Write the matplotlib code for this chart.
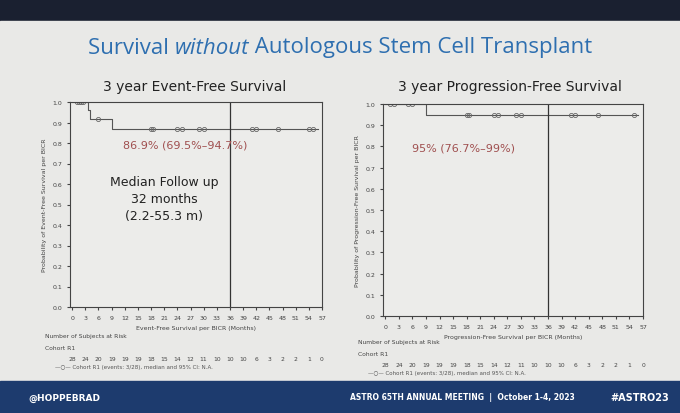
import matplotlib
matplotlib.use("Agg")
import matplotlib.pyplot as plt
import numpy as np

W, H = 680, 414
# Event-free survival step data
efs_t = [0, 3.5, 4, 9, 56]
efs_s = [1.0, 0.96, 0.915, 0.869, 0.869]
efs_cens = [1, 1.5, 2, 2.5, 6, 18, 18.5, 24, 25, 29, 30, 41, 42, 47, 54, 55]
pfs_t = [0, 9, 56]
pfs_s = [1.0, 0.95, 0.95]
pfs_cens = [1, 2, 5, 6, 18, 18.5, 24, 25, 29, 30, 41, 42, 47, 55]
xticks = list(range(0, 58, 3))
yticks = [round(0.1 * i, 1) for i in range(11)]
at_risk = [28, 24, 20, 19, 19, 19, 18, 15, 14, 12, 11, 10, 10, 10, 6, 3, 2, 2, 1, 0]

fig = plt.figure(figsize=(W / 100, H / 100), dpi=100)
fig.patch.set_facecolor("#dcdcdc")

def px(x0, y0, x1, y1):
    return [x0 / W, 1 - y1 / H, (x1 - x0) / W, (y1 - y0) / H]

bg = fig.add_axes([0, 0, 1, 1]); bg.axis("off"); bg.set_xlim(0, W); bg.set_ylim(H, 0)
bg.add_patch(plt.Rectangle((0, 0), W, 22, color="#1a2030"))
bg.add_patch(plt.Rectangle((0, 22), W, 360, color="#e9e9e7"))
bg.add_patch(plt.Rectangle((0, 382), W, 32, color="#1d3b6e"))

# title in three pieces laid out with measured widths
renderer = fig.canvas.get_renderer()
parts = [("Survival ", "normal"), ("without", "italic"), (" Autologous Stem Cell Transplant", "normal")]
objs = []
for s, st in parts:
    objs.append(bg.text(0, 48, s, color="#2e6fb0", fontsize=16, va="center", family="Open Sans", style=st))
widths = [o.get_window_extent(renderer).width for o in objs]
x = 340 - sum(widths) / 2
for o, w in zip(objs, widths):
    o.set_x(x); x += w

bg.text(195, 87, "3 year Event-Free Survival", fontsize=10, ha="center", va="center", color="#222")
bg.text(510, 87, "3 year Progression-Free Survival", fontsize=10, ha="center", va="center", color="#222")
bg.text(28, 398, "@HOPPEBRAD", color="white", fontsize=6.5, va="center", fontweight="bold")
bg.text(350, 398, "ASTRO 65TH ANNUAL MEETING  |  October 1-4, 2023", color="white", fontsize=5.5, va="center", fontweight="bold")
bg.text(610, 398, "#ASTRO23", color="white", fontsize=7, va="center", fontweight="bold")

def km(rect, t, s, cens, xlabel, ylabel, label, lpos, risk_y):
    ax = fig.add_axes(px(*rect))
    ax.set_facecolor("#ececea")
    ax.step(t, s, where="post", color="#555", lw=0.8)
    cy = [s[np.searchsorted(t, c, side="right") - 1] for c in cens]
    ax.plot(cens, cy, "o", mfc="none", mec="#666", ms=3, mew=0.6)
    ax.axvline(36, color="#333", lw=0.9)
    ax.set_xlim(-0.5, 57); ax.set_ylim(0, 1.0)
    ax.set_xticks(xticks); ax.set_yticks(yticks)
    ax.set_yticklabels([f"{v:.1f}" for v in yticks])
    ax.tick_params(labelsize=4.5, colors="#444", length=2)
    ax.set_xlabel(xlabel, fontsize=4.5, color="#444")
    ax.set_ylabel(ylabel, fontsize=4.5, color="#444")
    for sp in ax.spines.values():
        sp.set_color("#444"); sp.set_linewidth(0.8)
    ax.text(lpos[0], lpos[1], label, fontsize=8, color="#a05050")
    x0 = rect[0]
    bg.text(x0 - 25, risk_y, "Number of Subjects at Risk", fontsize=4.3, color="#444")
    bg.text(x0 - 25, risk_y + 12, "Cohort R1", fontsize=4.3, color="#444")
    for i, n in enumerate(at_risk):
        xx = rect[0] + (rect[2] - rect[0]) * (xticks[i] + 0.5) / 57.5
        bg.text(xx, risk_y + 23, str(n), fontsize=4.3, color="#444", ha="center")
    bg.text(x0 - 15, risk_y + 31, "—○— Cohort R1 (events: 3/28), median and 95% CI: N.A.", fontsize=4, color="#555")
    return ax

ax = km((70, 103, 322, 308), efs_t, efs_s, efs_cens, "Event-Free Survival per BICR (Months)",
        "Probability of Event-Free Survival per BICR", "86.9% (69.5%–94.7%)", (11.5, 0.78), 338)
ax.text(21, 0.53, "Median Follow up\n32 months\n(2.2-55.3 m)", ha="center", va="center",
        fontsize=9, color="#222", linespacing=1.4)

km((383, 105, 643, 317), pfs_t, pfs_s, pfs_cens, "Progression-Free Survival per BICR (Months)",
   "Probability of Progression-Free Survival per BICR", "95% (76.7%–99%)", (6, 0.78), 344)

fig.savefig("out.png", dpi=100, facecolor=fig.get_facecolor())
